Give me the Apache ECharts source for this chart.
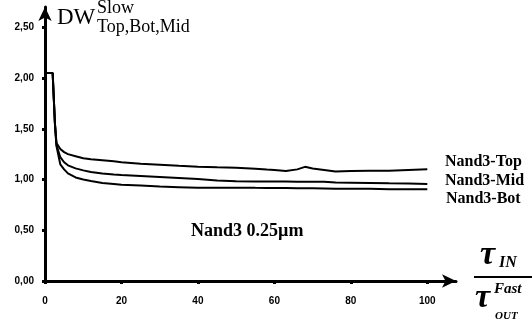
<!DOCTYPE html>
<html>
<head>
<meta charset="utf-8">
<script src="https://cdn.jsdelivr.net/npm/echarts@6/dist/echarts.min.js"></script>
<style>
  html, body { margin: 0; padding: 0; background: #fff; }
  #chart { width: 532px; height: 327px; }
</style>
</head>
<body>
<div id="chart"></div>
<script>
// tau_IN / tau_OUT fast (x) sampled points
var xs = [0, 1, 2, 2.6, 3, 4, 5, 6, 8, 10, 12, 15, 18, 20, 25, 30, 35, 40, 45, 50, 55, 58, 60, 63, 66, 68, 70, 73, 76, 80, 85, 90, 95, 100];

var topVals = [2.05, 2.05, 2.05, 1.55, 1.36, 1.3, 1.27, 1.25, 1.23, 1.21, 1.2, 1.19, 1.18, 1.17, 1.155, 1.145, 1.135, 1.126, 1.12, 1.115, 1.105, 1.098, 1.094, 1.085, 1.1, 1.125, 1.108, 1.094, 1.08, 1.084, 1.087, 1.087, 1.095, 1.1];
var midVals = [2.05, 2.05, 2.05, 1.55, 1.34, 1.22, 1.17, 1.14, 1.11, 1.09, 1.075, 1.06, 1.05, 1.045, 1.035, 1.025, 1.015, 1.005, 0.99, 0.982, 0.98, 0.98, 0.98, 0.98, 0.979, 0.978, 0.978, 0.977, 0.97, 0.968, 0.965, 0.962, 0.96, 0.955];
var botVals = [2.05, 2.05, 2.05, 1.55, 1.33, 1.15, 1.1, 1.06, 1.02, 1.0, 0.985, 0.965, 0.955, 0.948, 0.94, 0.93, 0.925, 0.92, 0.92, 0.92, 0.918, 0.917, 0.917, 0.916, 0.915, 0.915, 0.914, 0.912, 0.91, 0.908, 0.91, 0.905, 0.905, 0.903];

var xTicks = [0, 20, 40, 60, 80, 100];
var yTicks = [0, 0.5, 1, 1.5, 2, 2.5];

function pairs(vals) {
  var out = [];
  xs.forEach(function (x, i) { out.push([x, vals[i]]); });
  return out;
}

var serif = '"Liberation Serif", "DejaVu Serif", serif';
var sans = '"Liberation Sans", Arial, sans-serif';

var chart = echarts.init(document.getElementById('chart'), null, { renderer: 'canvas' });

var axisLine = {
  show: true,
  symbol: ['none', 'arrow'],
  symbolSize: [10, 14],
  lineStyle: { color: '#000', width: 3 }
};

var option = {
  animation: false,
  backgroundColor: '#fff',
  grid: { left: 45, right: 76, top: 7, bottom: 46, containLabel: false },
  xAxis: {
    type: 'value',
    min: 0,
    max: 107.5,
    axisLine: axisLine,
    splitLine: { show: false },
    axisTick: { show: true, length: 3, lineStyle: { color: '#000', width: 3 }, customValues: xTicks },
    axisLabel: {
      customValues: xTicks,
      color: '#000', fontFamily: sans, fontWeight: 'bold', fontSize: 10, margin: 15
    }
  },
  yAxis: {
    type: 'value',
    min: 0,
    max: 2.7,
    axisLine: axisLine,
    splitLine: { show: false },
    axisTick: { show: true, length: 3, lineStyle: { color: '#000', width: 3 }, customValues: yTicks },
    axisLabel: {
      customValues: yTicks,
      color: '#000', fontFamily: sans, fontWeight: 'bold', fontSize: 10, margin: 11,
      formatter: function (v) { return v.toFixed(2).replace('.', ','); }
    }
  },
  series: [
    { name: 'Nand3-Top', type: 'line', data: pairs(topVals), showSymbol: false, lineStyle: { color: '#000', width: 2 }, z: 3 },
    { name: 'Nand3-Mid', type: 'line', data: pairs(midVals), showSymbol: false, lineStyle: { color: '#000', width: 2 }, z: 3 },
    { name: 'Nand3-Bot', type: 'line', data: pairs(botVals), showSymbol: false, lineStyle: { color: '#000', width: 2 }, z: 3 }
  ],
  graphic: [
    // y-axis title
    { type: 'text', left: 57, top: 6, style: { text: 'DW', font: '23px ' + serif, fill: '#000' } },
    { type: 'text', left: 97, top: -1, style: { text: 'Slow', font: '18px ' + serif, fill: '#000' } },
    { type: 'text', left: 97, top: 18, style: { text: 'Top,Bot,Mid', font: '18px ' + serif, fill: '#000' } },
    // curve labels
    { type: 'text', left: 445, top: 154, style: { text: 'Nand3-Top', font: 'bold 16px ' + serif, fill: '#000' } },
    { type: 'text', left: 445, top: 173, style: { text: 'Nand3-Mid', font: 'bold 16px ' + serif, fill: '#000' } },
    { type: 'text', left: 446, top: 191, style: { text: 'Nand3-Bot', font: 'bold 16px ' + serif, fill: '#000' } },
    // annotation
    { type: 'text', left: 191, top: 222, style: { text: 'Nand3 0.25\u00b5m', font: 'bold 18px ' + serif, fill: '#000' } },
    // x-axis title fraction
    { type: 'text', left: 480, top: 238, style: { text: '\u03c4', font: 'italic bold 34px ' + serif, fill: '#000' } },
    { type: 'text', left: 499, top: 255, style: { text: 'IN', font: 'italic bold 16px ' + serif, fill: '#000' } },
    { type: 'rect', shape: { x: 474, y: 276, width: 58, height: 2 }, style: { fill: '#000' } },
    { type: 'text', left: 475, top: 281, style: { text: '\u03c4', font: 'italic bold 34px ' + serif, fill: '#000' } },
    { type: 'text', left: 494, top: 282, style: { text: 'Fast', font: 'italic bold 15px ' + serif, fill: '#000' } },
    { type: 'text', left: 495, top: 311, style: { text: 'OUT', font: 'italic bold 11px ' + serif, fill: '#000' } }
  ]
};

chart.setOption(option);
</script>
</body>
</html>
